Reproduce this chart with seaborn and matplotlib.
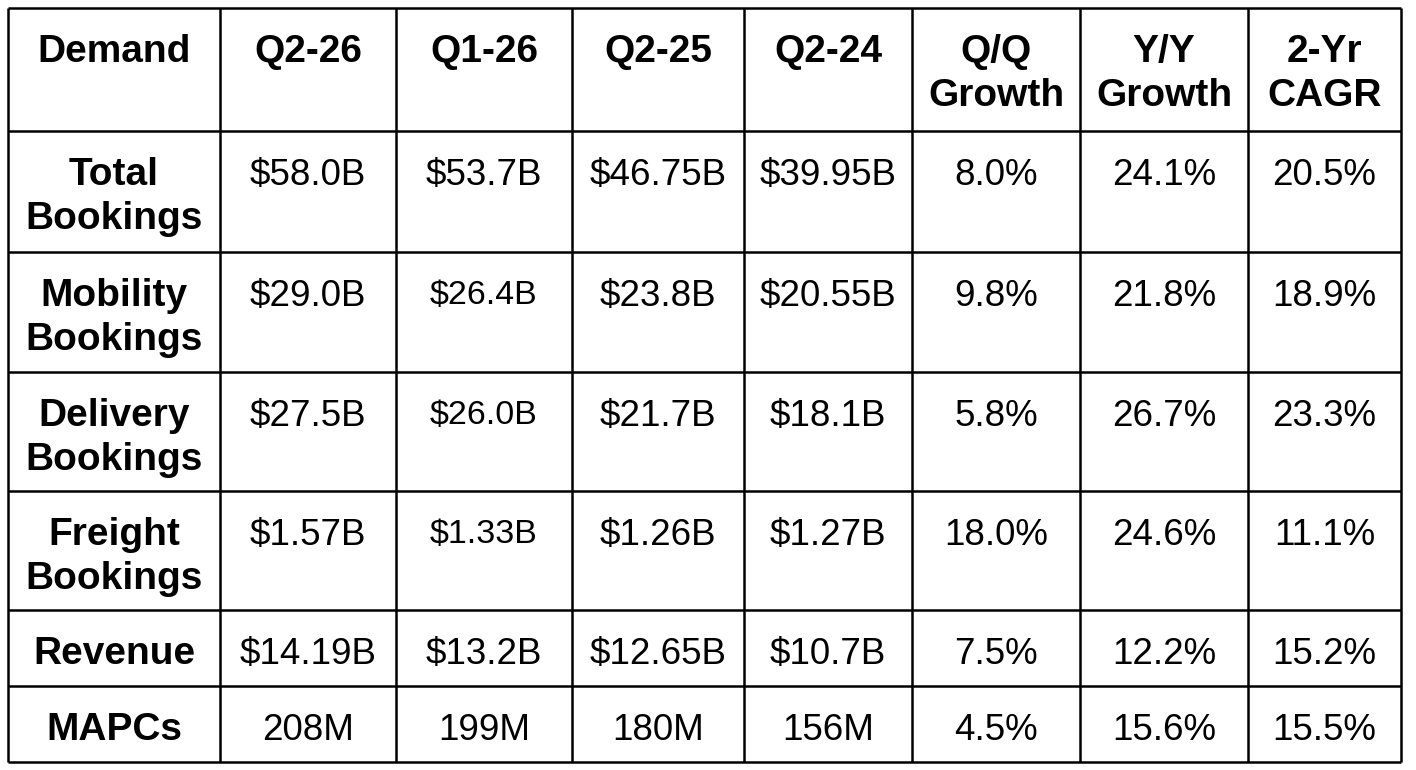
import matplotlib.pyplot as plt
import seaborn as sns
import pandas as pd

sns.set_theme(style='white')
plt.rcParams['font.family'] = ['Liberation Sans', 'DejaVu Sans']

# Table content
header = ['Demand', 'Q2-26', 'Q1-26', 'Q2-25', 'Q2-24', 'Q/Q\nGrowth', 'Y/Y\nGrowth', '2-Yr\nCAGR']
row_labels = ['Total\nBookings', 'Mobility\nBookings', 'Delivery\nBookings',
              'Freight\nBookings', 'Revenue', 'MAPCs']
q2_26 = ['$58.0B', '$29.0B', '$27.5B', '$1.57B', '$14.19B', '208M']
q1_26 = ['$53.7B', '$26.4B', '$26.0B', '$1.33B', '$13.2B', '199M']
q2_25 = ['$46.75B', '$23.8B', '$21.7B', '$1.26B', '$12.65B', '180M']
q2_24 = ['$39.95B', '$20.55B', '$18.1B', '$1.27B', '$10.7B', '156M']
qq_growth = ['8.0%', '9.8%', '5.8%', '18.0%', '7.5%', '4.5%']
yy_growth = ['24.1%', '21.8%', '26.7%', '24.6%', '12.2%', '15.6%']
cagr_2yr = ['20.5%', '18.9%', '23.3%', '11.1%', '15.2%', '15.5%']

df = pd.DataFrame({
    header[0]: row_labels, header[1]: q2_26, header[2]: q1_26, header[3]: q2_25,
    header[4]: q2_24, header[5]: qq_growth, header[6]: yy_growth, header[7]: cagr_2yr,
})

# grid layout in pixels
col_edges = [8, 220, 396, 572, 744, 912, 1080, 1248, 1401]
row_edges = [8, 131, 252, 372, 491, 610, 686, 762]
# a few cells in the source were typed a bit smaller (row, col)
small_cells = {(2, 2), (3, 2), (4, 2)}

fig = plt.figure(figsize=(14.16, 7.70), dpi=100)
ax = fig.add_axes([0, 0, 1, 1])
ax.set_xlim(0, 1416)
ax.set_ylim(770, 0)
ax.axis('off')

ax.hlines(row_edges, col_edges[0], col_edges[-1], color='black', lw=1.8)
ax.vlines(col_edges, row_edges[0], row_edges[-1], color='black', lw=1.8)


def put(text, ci, ri, bold, size, dy=0):
    xc = (col_edges[ci] + col_edges[ci + 1]) / 2
    top = row_edges[ri]
    for k, line in enumerate(text.split('\n')):
        ax.text(xc, top + 54 + 44 * k + dy, line, ha='center', va='baseline',
                fontsize=size, fontweight='bold' if bold else 'normal', color='black')


for ci, col in enumerate(df.columns):
    put(col, ci, 0, True, 28)
    for ri, val in enumerate(df[col]):
        if ci == 0:
            put(val, ci, ri + 1, True, 28)
        elif (ri + 1, ci) in small_cells:
            put(val, ci, ri + 1, False, 24.5, dy=-2)
        else:
            put(val, ci, ri + 1, False, 26.5)

fig.savefig('out.png', dpi=100, facecolor='white')
